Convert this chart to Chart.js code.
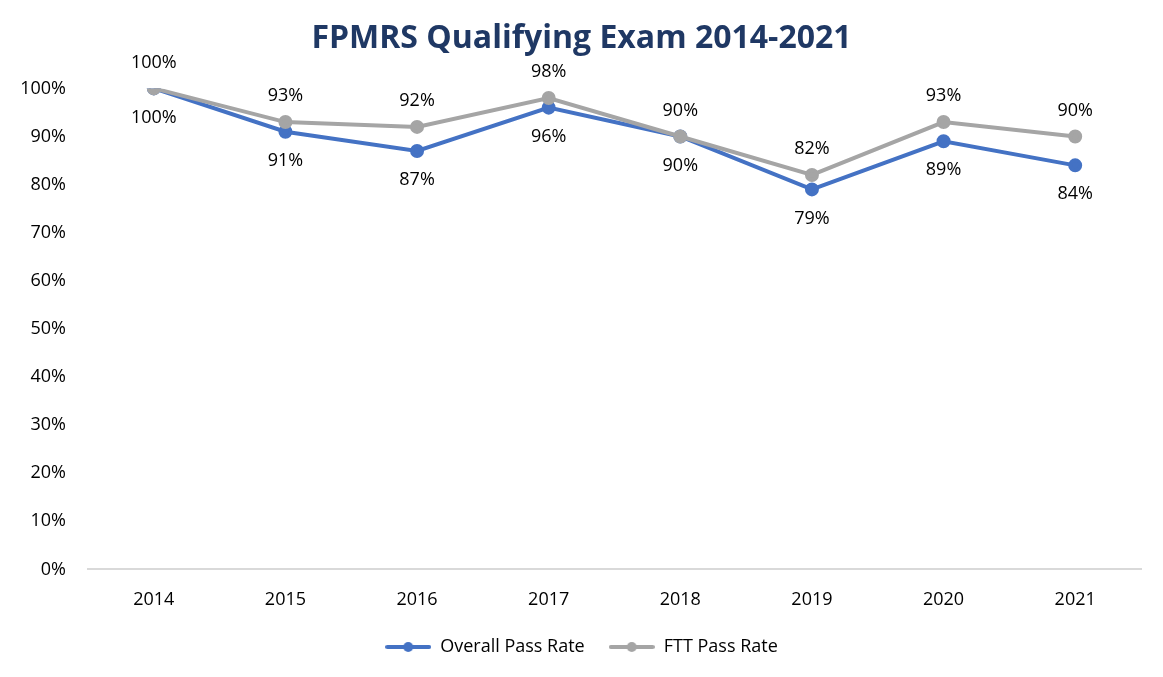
<!DOCTYPE html>
<html>
<head>
<meta charset="utf-8">
<script src="https://cdn.jsdelivr.net/npm/chart.js@4"></script>
<style>
  html, body { margin: 0; padding: 0; background: #fff; }
  #wrap { width: 1163px; height: 677px; }
</style>
</head>
<body>
<div id="wrap"><canvas id="myChart"></canvas></div>
<script>
const years = ['2014', '2015', '2016', '2017', '2018', '2019', '2020', '2021'];
const overallPass = [100, 91, 87, 96, 90, 79, 89, 84];
const fttPass = [100, 93, 92, 98, 90, 82, 93, 90];

const fontFam = "'Open Sans', 'Liberation Sans', sans-serif";

// legend marker: short line with a dot in the middle, like Excel
function legendIcon(color) {
    const c = document.createElement('canvas');
    c.width = 46; c.height = 14;
    const g = c.getContext('2d');
    g.strokeStyle = color;
    g.lineWidth = 4;
    g.lineCap = 'round';
    g.beginPath(); g.moveTo(2, 7); g.lineTo(44, 7); g.stroke();
    g.fillStyle = color;
    g.beginPath(); g.arc(23, 7, 5, 0, Math.PI * 2); g.fill();
    return c;
}

// value labels: FTT above its point, Overall below
const valueLabels = {
    id: 'valueLabels',
    afterDatasetsDraw(chart) {
        const g = chart.ctx;
        g.save();
        g.font = '18px ' + fontFam;
        g.fillStyle = '#000';
        g.textAlign = 'center';
        g.textBaseline = 'middle';
        chart.data.datasets.forEach((ds, i) => {
            const meta = chart.getDatasetMeta(i);
            meta.data.forEach((pt, j) => {
                const above = ds.label === 'FTT Pass Rate';
                g.fillText(ds.data[j] + '%', pt.x, above ? pt.y - 26 : pt.y + 29);
            });
        });
        g.restore();
    }
};

const ctx = document.getElementById('myChart').getContext('2d');

const myChart = new Chart(ctx, {
    type: 'line',
    data: {
        labels: years,
        datasets: [{
            label: 'Overall Pass Rate',
            data: overallPass,
            borderColor: '#4472C4',
            backgroundColor: '#4472C4',
            borderWidth: 4,
            pointRadius: 5,
            pointHoverRadius: 5,
            order: 1,
            tension: 0
        }, {
            label: 'FTT Pass Rate',
            data: fttPass,
            borderColor: '#A5A5A5',
            backgroundColor: '#A5A5A5',
            borderWidth: 4,
            pointRadius: 5,
            pointHoverRadius: 5,
            order: 0,
            tension: 0
        }]
    },
    options: {
        responsive: true,
        maintainAspectRatio: false,
        animation: false,
        layout: { padding: { left: 22, right: 22, top: 6, bottom: 11 } },
        plugins: {
            title: {
                display: true,
                text: 'FPMRS Qualifying Exam 2014-2021',
                color: '#1F3864',
                font: { family: fontFam, size: 32, weight: 'bold' },
                padding: { top: 14, bottom: 30 }
            },
            legend: {
                position: 'bottom',
                labels: {
                    color: '#000',
                    font: { family: fontFam, size: 18 },
                    usePointStyle: true,
                    pointStyleWidth: 46,
                    boxHeight: 14,
                    padding: 24,
                    sort: (a, b) => a.datasetIndex - b.datasetIndex,
                    generateLabels(chart) {
                        return chart.data.datasets.map((ds, i) => ({
                            text: ds.label,
                            datasetIndex: i,
                            pointStyle: legendIcon(ds.borderColor),
                            fillStyle: ds.borderColor,
                            strokeStyle: ds.borderColor,
                            fontColor: '#000',
                            lineWidth: 0,
                            hidden: false
                        }));
                    }
                }
            },
            tooltip: { enabled: false }
        },
        scales: {
            x: {
                offset: true,
                grid: { display: false, drawTicks: false },
                border: { color: '#D9D9D9', width: 2 },
                ticks: { color: '#000', font: { family: fontFam, size: 18 }, padding: 20 },
                afterFit(scale) { scale.height -= 17; }
            },
            y: {
                min: 0,
                max: 100,
                ticks: {
                    stepSize: 10,
                    color: '#000',
                    font: { family: fontFam, size: 18 },
                    padding: 22,
                    callback: v => v + '%'
                },
                grid: { display: false, drawTicks: false },
                border: { display: false },
                afterFit(scale) { scale.width = 66; }
            }
        }
    },
    plugins: [valueLabels]
});
</script>
</body>
</html>
